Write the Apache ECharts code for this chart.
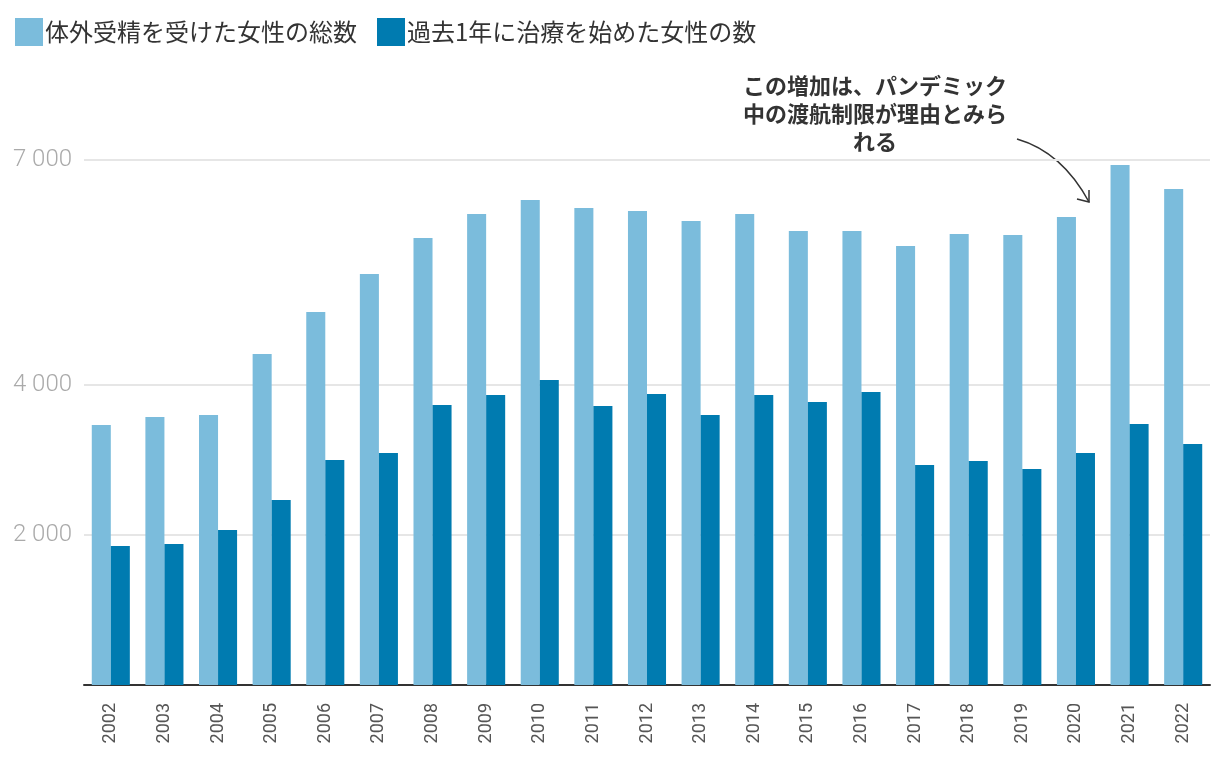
<!DOCTYPE html>
<html>
<head>
<meta charset="utf-8">
<script src="https://cdn.jsdelivr.net/npm/echarts@6/dist/echarts.min.js"></script>
<style>
html,body{margin:0;padding:0;background:#fff;}
#chart{width:1220px;height:772px;}
</style>
</head>
<body>
<div id="chart"></div>
<script>
const years = ['2002','2003','2004','2005','2006','2007','2008','2009','2010','2011','2012','2013','2014','2015','2016','2017','2018','2019','2020','2021','2022'];
const totalWomen = [3467,3573,3600,4413,4973,5480,5960,6280,6467,6360,6320,6187,6280,6053,6053,5853,6013,6000,6240,6933,6613];
const startedTreatment = [1853,1880,2067,2467,3000,3093,3733,3867,4067,3720,3880,3600,3867,3773,3907,2933,2987,2880,3093,3480,3213];
const yTicks = [2000,4000,7000];
const seriesNames = ['体外受精を受けた女性の総数','過去1年に治療を始めた女性の数'];
const annotationLines = ['この増加は、パンデミック','中の渡航制限が理由とみら','れる'];

const fmt = v => String(v).replace(/\B(?=(\d{3})+(?!\d))/g, ' ');

const chart = echarts.init(document.getElementById('chart'), null, {renderer:'canvas'});
const option = {
  animation:false,
  textStyle:{fontFamily:'Roboto, "Noto Sans CJK JP", sans-serif'},
  color:['#7bbcdc','#007bb0'],
  legend:{
    left:10, top:13,
    itemWidth:28, itemHeight:28, itemGap:20,
    icon:'rect',
    textStyle:{fontSize:24, color:'#333', fontFamily:'"Noto Sans CJK JP", sans-serif', padding:[0,0,0,-3]},
    data:seriesNames
  },
  grid:{left:84, right:10, top:160, bottom:87, containLabel:false},
  xAxis:{
    type:'category', data:years,
    axisLine:{lineStyle:{color:'#333', width:2}},
    axisTick:{show:false},
    axisLabel:{rotate:90, fontSize:18, color:'#555', margin:18, fontFamily:'Roboto'}
  },
  yAxis:{
    type:'value', min:0, max:7000, interval:1000,
    axisLine:{show:false},
    axisTick:{show:false, customValues:yTicks},
    axisLabel:{customValues:yTicks, formatter:fmt, fontSize:24, color:'#aaa', fontWeight:300, margin:12, fontFamily:'Roboto'},
    splitLine:{show:true, lineStyle:{color:'#e6e6e6', width:2}}
  },
  series:[
    {name:seriesNames[0], type:'bar', data:totalWomen, barGap:'0%', barCategoryGap:'29%'},
    {name:seriesNames[1], type:'bar', data:startedTreatment, barGap:'0%', barCategoryGap:'29%'}
  ],
  graphic:[
    {type:'group', children:annotationLines.map((t,i)=>({
      type:'text', x:875, y:86+i*28,
      style:{text:t, fontSize:22, fontWeight:'bold', fill:'#333', align:'center', verticalAlign:'middle', fontFamily:'"Noto Sans CJK JP", sans-serif'}
    }))},
    {type:'bezierCurve', shape:{x1:1017,y1:139,x2:1089,y2:202,cpx1:1062,cpy1:152}, style:{stroke:'#333', lineWidth:1.5, fill:null}},
    {type:'polyline', shape:{points:[[1077,199],[1089,202],[1089,190]]}, style:{stroke:'#333', lineWidth:1.5, fill:null}}
  ]
};
chart.setOption(option);
</script>
</body>
</html>
